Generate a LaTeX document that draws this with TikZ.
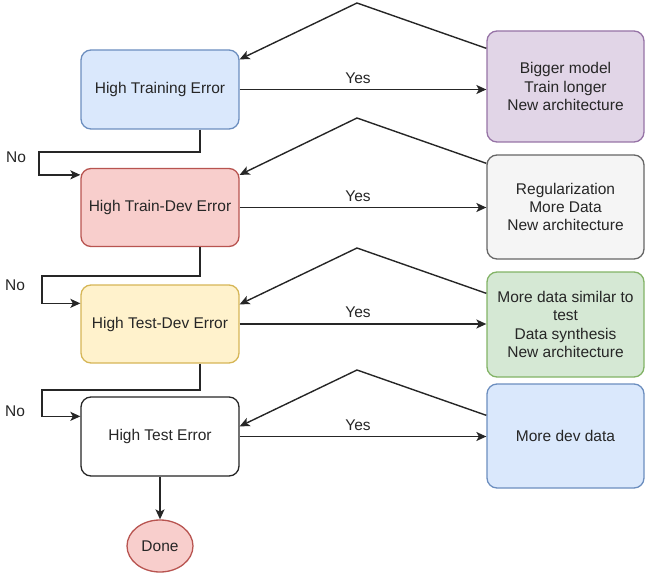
\documentclass[tikz,border=0pt]{standalone}
\usepackage{fontspec}
\setmainfont{Liberation Sans}
\usetikzlibrary{shapes.geometric,arrows.meta,calc}
\definecolor{blueFill}{HTML}{DAE8FC}
\definecolor{blueLine}{HTML}{6C8EBF}
\definecolor{redFill}{HTML}{F8CECC}
\definecolor{redLine}{HTML}{B85450}
\definecolor{yellowFill}{HTML}{FFF2CC}
\definecolor{yellowLine}{HTML}{D6B656}
\definecolor{purpleFill}{HTML}{E1D5E7}
\definecolor{purpleLine}{HTML}{9673A6}
\definecolor{greyFill}{HTML}{F5F5F5}
\definecolor{greyLine}{HTML}{666666}
\definecolor{greenFill}{HTML}{D5E8D4}
\definecolor{greenLine}{HTML}{82B366}

\begin{document}
\begin{tikzpicture}[x=1pt, y=-1pt,
            >={Stealth[length=10pt,width=9pt,inset=2.5pt]},
            every node/.style = {font=\fontsize{15.5}{18.3}\selectfont, text=black!85},
            box/.style = {draw, rounded corners=10pt, line width=1.3pt,
                          minimum width=158pt, minimum height=79pt, align=center},
            fixbox/.style = {box, minimum width=157pt},
            link/.style = {line width=1.4pt, draw=black!85, ->}
            ]
            \useasboundingbox (0,0) rectangle (653,575);

            % checks on the left
            \node[box, fill=blueFill, draw=blueLine] (te) at (160,89.5) {High Training Error};
            \node[box, fill=redFill, draw=redLine, minimum height=78pt] (tde) at (160,207.5) {High Train-Dev Error};
            \node[box, fill=yellowFill, draw=yellowLine, minimum height=78pt] (tse) at (160,324) {High Test-Dev Error};
            \node[box, fill=white, draw=black!85] (tst) at (160,436.5) {High Test Error};
            \node[ellipse, draw=redLine, fill=redFill, line width=1.3pt,
                  minimum width=66pt, minimum height=52pt] (done) at (160,546) {Done};

            % fixes on the right
            \node[fixbox, fill=purpleFill, draw=purpleLine, minimum height=111pt] (r1) at (565.5,86.5)
                {Bigger model\\Train longer\\New architecture};
            \node[fixbox, fill=greyFill, draw=greyLine, minimum height=104pt] (r2) at (565.5,207)
                {Regularization\\More Data\\New architecture};
            \node[fixbox, fill=greenFill, draw=greenLine, minimum height=105pt] (r3) at (565.5,324.5)
                {More data similar to\\test\\Data synthesis\\New architecture};
            \node[fixbox, fill=blueFill, draw=blueLine, minimum height=104pt] (r4) at (565.5,436)
                {More dev data};

            % yes
            \draw[link] (te.east) -- node[above=2pt, pos=0.48] (yes1) {Yes} (te.east -| r1.west);
            \draw[link] (tde.east) -- node[above=2pt, pos=0.48] (yes2) {Yes} (tde.east -| r2.west);
            \draw[link] (tse.east) -- node[above=2pt, pos=0.48] (yes3) {Yes} (tse.east -| r3.west);
            \draw[link] (tst.east) -- node[above=2pt, pos=0.48] (yes4) {Yes} (tst.east -| r4.west);

            % back to the check
            \coordinate (top1) at (357,3);
            \coordinate (top2) at (357,118);
            \coordinate (top3) at (357,248);
            \coordinate (top4) at (357,370);
            \draw[link] ($(r1.north west)+(0,18)$) -- (top1) -- ($(te.north east)+(0,10)$);
            \draw[link] ($(r2.north west)+(0,9)$) -- (top2) -- ($(tde.north east)+(0,7)$);
            \draw[link] ($(r3.north west)+(0,22)$) -- (top3) -- ($(tse.north east)+(0,20)$);
            \draw[link] ($(r4.north west)+(0,32)$) -- (top4) -- ($(tst.north east)+(0,30)$);

            % no
            \draw[link] ($(te.south)+(40,0)$) |- (39,152) |- ($(tde.north west)+(0,7)$);
            \draw[link] ($(tde.south)+(40,0)$) |- (42,276) |- ($(tse.north west)+(0,19)$);
            \draw[link] ($(tse.south)+(40,0)$) |- (42,390) |- ($(tst.north west)+(0,20)$);
            \node (no1) at (16,157) {No};
            \node (no2) at (15,285) {No};
            \node (no3) at (15,411) {No};

            \draw[link] (tst) -- (done);
        \end{tikzpicture}
\end{document}
